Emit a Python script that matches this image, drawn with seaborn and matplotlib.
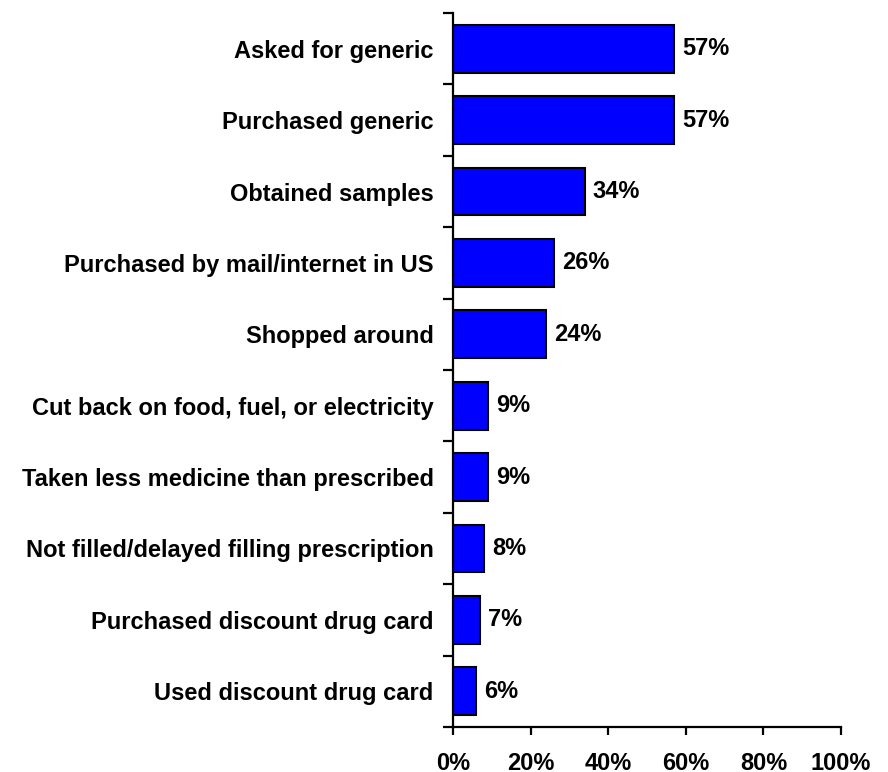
import matplotlib
matplotlib.use("Agg")
import matplotlib.pyplot as plt
import seaborn as sns
import pandas as pd
import numpy as np
from matplotlib.ticker import FixedLocator

categories = [
    "Asked for generic",
    "Purchased generic",
    "Obtained samples",
    "Purchased by mail/internet in US",
    "Shopped around",
    "Cut back on food, fuel, or electricity",
    "Taken less medicine than prescribed",
    "Not filled/delayed filling prescription",
    "Purchased discount drug card",
    "Used discount drug card",
]
values = [57, 57, 34, 26, 24, 9, 9, 8, 7, 6]
xticks = [0, 20, 40, 60, 80, 100]
xtick_labels = ["0%", "20%", "40%", "60%", "80%", "100%"]

df = pd.DataFrame({"category": categories, "value": values})

sns.set_style("white")
plt.rcParams['font.family'] = ['Liberation Sans', 'DejaVu Sans']
plt.rcParams['text.color'] = 'black'
plt.rcParams['xtick.color'] = 'black'
plt.rcParams['ytick.color'] = 'black'

fig = plt.figure(figsize=(8.88, 7.72), dpi=100)
ax = fig.add_axes([453/888, 1 - 727/772, (841-453)/888, (727-13)/772])

sns.barplot(data=df, x="value", y="category", orient="h", color="#0000FF",
            saturation=1, width=0.67, edgecolor="black", linewidth=1.5, ax=ax)

ax.set_xlim(0, 100)
ax.set_ylim(len(categories) - 0.5, -0.5)
ax.set_xlabel("")
ax.set_ylabel("")

for spine in ["top", "right"]:
    ax.spines[spine].set_visible(False)
for spine in ["left", "bottom"]:
    ax.spines[spine].set_linewidth(1.6)
    ax.spines[spine].set_color("black")

ax.set_xticks(xticks)
ax.set_xticklabels(xtick_labels, fontsize=17, fontweight="bold", color="black")
ax.tick_params(axis="x", direction="out", length=6, width=1.6, pad=12, bottom=True)

ax.set_yticks(range(len(categories)))
ax.set_yticklabels(categories, fontsize=17, fontweight="bold", color="black")
ax.tick_params(axis="y", which="major", length=0, pad=14)
ax.yaxis.set_minor_locator(FixedLocator(np.arange(-0.5, len(categories), 1.0)))
ax.tick_params(axis="y", which="minor", direction="out", length=7, width=1.6, left=True)

for i, v in enumerate(values):
    ax.text(v + 2.0, i, f"{v}%", va="center", ha="left", fontsize=17,
            fontweight="bold", color="black")

fig.savefig("out.png", dpi=100)
